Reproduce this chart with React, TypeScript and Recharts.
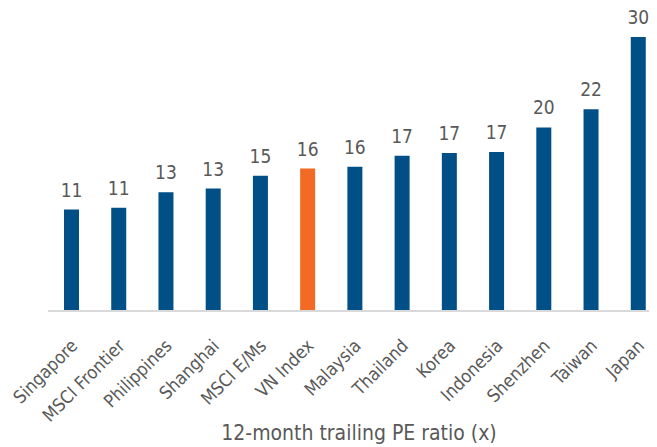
import { Bar, BarChart, Cell, Label, LabelList, XAxis, YAxis } from "recharts";

const categories = [
  "Singapore",
  "MSCI Frontier",
  "Philippines",
  "Shanghai",
  "MSCI E/Ms",
  "VN Index",
  "Malaysia",
  "Thailand",
  "Korea",
  "Indonesia",
  "Shenzhen",
  "Taiwan",
  "Japan",
];

const peRatios = [11.1, 11.3, 13.0, 13.4, 14.8, 15.6, 15.8, 17.0, 17.3, 17.4, 20.1, 22.1, 30.0];

const highlighted = "VN Index";

const data = categories.map((name, i) => ({ name, pe: peRatios[i] }));

const BLUE = "#004f87";
const ORANGE = "#f26a23";
const GREY_TEXT = "#595959";

const AngledTick = (props: any) => {
  const { x, y, payload } = props;
  return (
    <g transform={`translate(${x + 7},${y + 28})`}>
      <text
        x={0}
        y={0}
        textAnchor="end"
        fill={GREY_TEXT}
        fontSize={18}
        transform="rotate(-45)"
      >
        {payload.value}
      </text>
    </g>
  );
};

const App = () => {
  return (
    <div
      style={{
        width: 649,
        height: 439,
        overflow: "hidden",
        fontFamily: "'DejaVu Sans Condensed', 'DejaVu Sans', sans-serif",
      }}
    >
      <BarChart
        width={660}
        height={439}
        data={data}
        margin={{ top: 29, right: 6, left: 40, bottom: 0 }}
        barSize={15}
      >
        <XAxis
          dataKey="name"
          interval={0}
          tickLine={false}
          axisLine={{ stroke: "#d9d9d9", strokeWidth: 2 }}
          tick={<AngledTick />}
          height={136}
        >
          <Label
            value="12-month trailing PE ratio (x)"
            position="insideBottom"
            offset={7}
            dx={4}
            fill={GREY_TEXT}
            fontSize={21}
          />
        </XAxis>
        <YAxis hide domain={[0, 30]} />
        <Bar dataKey="pe" isAnimationActive={false}>
          {data.map((d) => (
            <Cell key={d.name} fill={d.name === highlighted ? ORANGE : BLUE} />
          ))}
          <LabelList
            dataKey="pe"
            position="top"
            offset={13}
            fill={GREY_TEXT}
            fontSize={19}
            formatter={(v: any) => Math.round(Number(v))}
          />
        </Bar>
      </BarChart>
    </div>
  );
};

export default App;
